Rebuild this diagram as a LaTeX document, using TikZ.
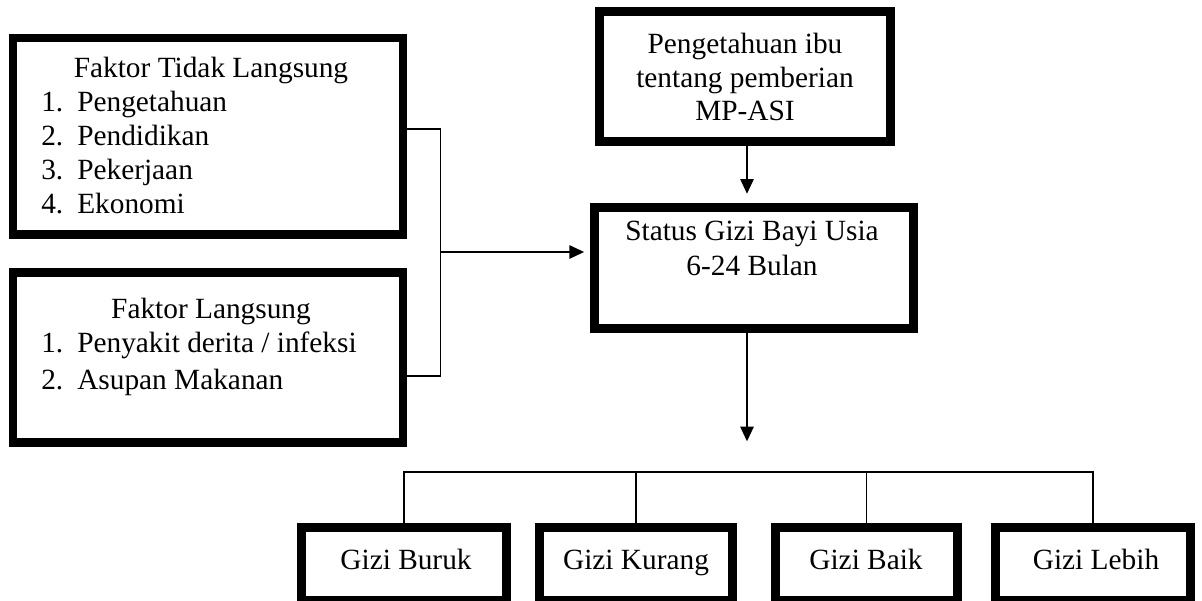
\documentclass[tikz,border=0pt]{standalone}
\usepackage{fontspec}
\setmainfont{Liberation Serif}
\usetikzlibrary{arrows.meta}
\begin{document}
\begin{tikzpicture}[x=0.75pt,y=-0.75pt,
  thickbox/.style={draw=black,line width=6.6pt,rectangle,inner sep=0pt},
  conn/.style={draw=black,line width=1.2pt},
  arr/.style={conn,-{Triangle[length=11pt,width=10pt]}},
  txt/.style={font=\fontsize{22}{26}\selectfont,inner sep=0pt,anchor=base},
  ltxt/.style={txt,anchor=base west}]
\useasboundingbox[fill=white] (0,0) rectangle (1202,600);
% boxes
\node[thickbox,minimum width=292.5pt,minimum height=147.4pt] (b1) at (208,136.25) {};
\node[thickbox,minimum width=292.5pt,minimum height=127.5pt] (b2) at (208,357.5) {};
\node[thickbox,minimum width=218.25pt,minimum height=97.5pt] (top) at (745,76.5) {};
\node[thickbox,minimum width=239.25pt,minimum height=90.75pt] (st) at (754,268) {};
\node[thickbox,minimum width=153.75pt,minimum height=54.4pt] (g1) at (404,564) {};
\node[thickbox,minimum width=144.75pt,minimum height=54.4pt] (g2) at (636,564) {};
\node[thickbox,minimum width=136.5pt,minimum height=54.4pt] (g3) at (866.5,564) {};
\node[thickbox,minimum width=146.25pt,minimum height=54.4pt] (g4) at (1093,564) {};
% texts box 1
\node[txt] (t1) at (211,77) {Faktor Tidak Langsung};
\node[ltxt] (n11) at (41,111) {1.};
\node[ltxt] (i11) at (77,111) {Pengetahuan};
\node[ltxt] (n12) at (41,145) {2.};
\node[ltxt] (i12) at (77,145) {Pendidikan};
\node[ltxt] (n13) at (41,179) {3.};
\node[ltxt] (i13) at (77,179) {Pekerjaan};
\node[ltxt] (n14) at (41,213) {4.};
\node[ltxt] (i14) at (77,213) {Ekonomi};
% texts box 2
\node[txt] (t2) at (211,318) {Faktor Langsung};
\node[ltxt] (n21) at (41,352) {1.};
\node[ltxt] (i21) at (77,352) {Penyakit derita / infeksi};
\node[ltxt] (n22) at (41,389) {2.};
\node[ltxt] (i22) at (77,389) {Asupan Makanan};
% top box
\node[txt] (p1) at (745,53) {Pengetahuan ibu};
\node[txt] (p2) at (745,87) {tentang pemberian};
\node[txt] (p3) at (745,120) {MP-ASI};
% status
\node[txt] (s1) at (752,240) {Status Gizi Bayi Usia};
\node[txt] (s2) at (752,275) {6-24 Bulan};
% bottom texts
\node[txt] (q1) at (406,569) {Gizi Buruk};
\node[txt] (q2) at (636,569) {Gizi Kurang};
\node[txt] (q3) at (866,569) {Gizi Baik};
\node[txt] (q4) at (1096,569) {Gizi Lebih};
% connectors
\coordinate (j1) at (440.5,129);
\coordinate (j2) at (440.5,376);
\coordinate (jm) at (440.5,252);
\coordinate (bus) at (747,472);
\draw[conn] (b1.east |- j1) -- (j1) -- (j2) -- (b2.east |- j2);
\draw[arr] (jm) -- ([xshift=-4.5pt]st.west |- jm);
\draw[arr] (top.south -| 747,0) -- ([yshift=7pt]st.north -| 747,0);
\draw[arr] (st.south -| bus) -- ([yshift=23pt]bus);
\draw[conn] (g1.north) |- (bus) -| (g4.north);
\draw[conn] (g2.north) -- (g2.north |- bus);
\draw[conn] (g3.north) -- (g3.north |- bus);
\end{tikzpicture}
\end{document}
